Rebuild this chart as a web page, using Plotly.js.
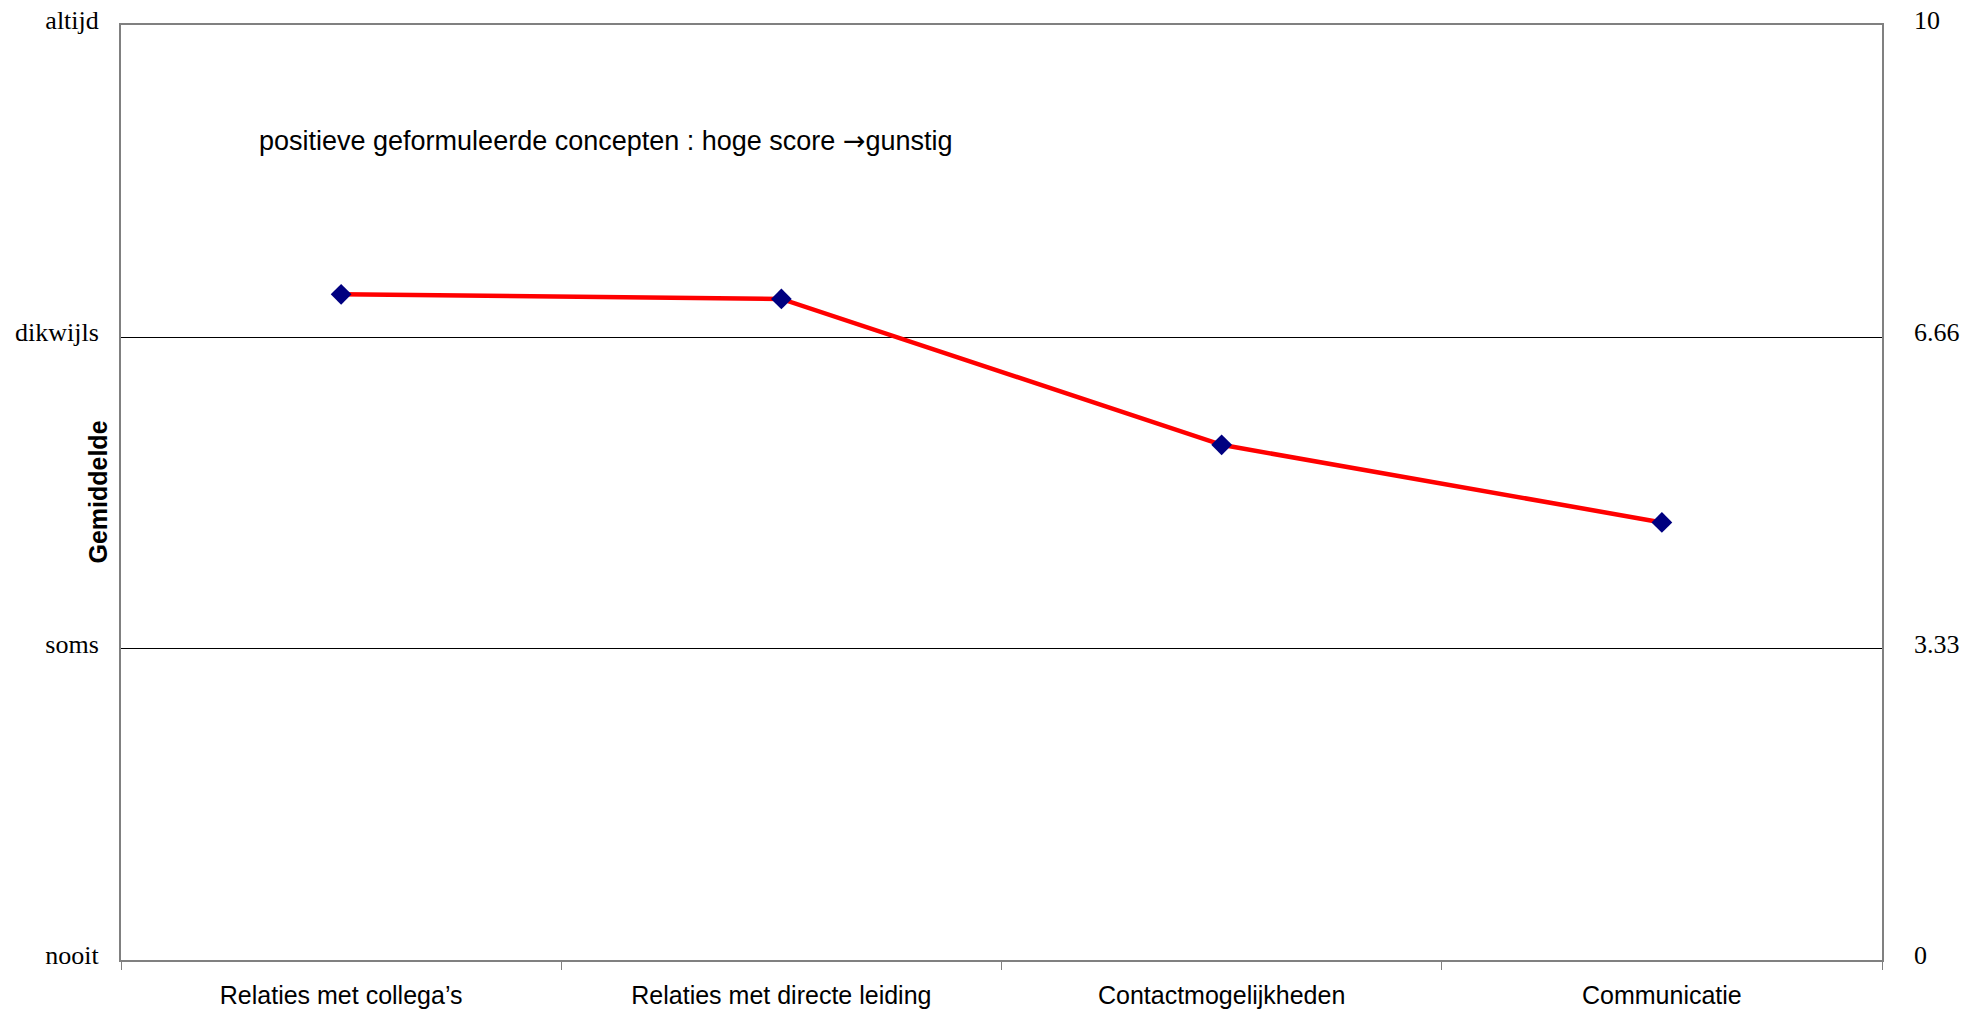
<!DOCTYPE html>
<html>
<head>
<meta charset="utf-8">
<script src="https://cdn.plot.ly/plotly-3.0.1.min.js"></script>
<style>html,body{margin:0;padding:0;background:#fff;}#chart{width:1986px;height:1014px;}</style>
</head>
<body>
<div id="chart"></div>
<script>
const categories = ["Relaties met collega\u2019s", "Relaties met directe leiding", "Contactmogelijkheden", "Communicatie"];
const gemiddelde = [7.12, 7.07, 5.51, 4.68];
const yTickVals = [0, 3.33, 6.66, 10];
const yTickTextLeft = ["nooit", "soms", "dikwijls", "altijd"];
const yTickTextRight = ["0", "3.33", "6.66", "10"];
const noteBefore = "positieve geformuleerde concepten : hoge score ";
const noteArrow = "\u2192";
const noteAfter = "gunstig";
const yTitle = "Gemiddelde";

const trace = {
  x: categories,
  y: gemiddelde,
  type: "scatter",
  mode: "lines+markers",
  line: {color: "#ff0000", width: 4.5},
  marker: {symbol: "diamond", size: 16, color: "#000080"},
  showlegend: false,
  hoverinfo: "x+y"
};

const layout = {
  width: 1986,
  height: 1014,
  margin: {l: 121, r: 104, t: 25, b: 54, pad: 0},
  paper_bgcolor: "#ffffff",
  plot_bgcolor: "#ffffff",
  showlegend: false,
  xaxis: {
    type: "category",
    range: [-0.5, 3.5],
    tickson: "boundaries",
    ticks: "outside",
    ticklen: 8,
    tickwidth: 1,
    tickcolor: "#808080",
    showline: true,
    linecolor: "#808080",
    linewidth: 2,
    mirror: true,
    showgrid: false,
    zeroline: false,
    ticklabelstandoff: 12,
    tickfont: {family: "Liberation Sans, Arial, sans-serif", size: 25, color: "#000000"}
  },
  yaxis: {
    range: [0, 10],
    tickvals: yTickVals,
    ticktext: yTickTextLeft,
    ticks: "",
    showline: true,
    linecolor: "#808080",
    linewidth: 2,
    mirror: true,
    showgrid: true,
    gridcolor: "#000000",
    gridwidth: 1,
    zeroline: false,
    ticklabelstandoff: 15,
    ticklabelshift: -5,
    tickfont: {family: "Liberation Serif, Times New Roman, serif", size: 26, color: "#000000"}
  },
  yaxis2: {
    range: [0, 10],
    overlaying: "y",
    side: "right",
    tickvals: yTickVals,
    ticktext: yTickTextRight,
    ticks: "",
    showline: false,
    showgrid: false,
    zeroline: false,
    ticklabelstandoff: 31,
    ticklabelshift: -5,
    tickfont: {family: "Liberation Serif, Times New Roman, serif", size: 26, color: "#000000"}
  },
  annotations: [
    {
      text: noteBefore + "<span style='font-family:DejaVu Sans'>" + noteArrow + "</span>" + noteAfter,
      xref: "paper", yref: "paper",
      x: 0.0775, y: 0.876,
      xanchor: "left", yanchor: "middle",
      showarrow: false,
      font: {family: "Liberation Sans, Arial, sans-serif", size: 27, color: "#000000"}
    },
    {
      text: "<b>" + yTitle + "</b>",
      xref: "paper", yref: "paper",
      x: -0.0136, y: 0.5,
      xanchor: "center", yanchor: "middle",
      textangle: -90,
      showarrow: false,
      font: {family: "Liberation Sans, Arial, sans-serif", size: 25, color: "#000000"}
    }
  ]
};

const anchorTrace = {
  x: [categories[0]],
  y: [null],
  yaxis: "y2",
  type: "scatter",
  mode: "markers",
  showlegend: false,
  hoverinfo: "skip"
};

Plotly.newPlot("chart", [trace, anchorTrace], layout, {displayModeBar: false, staticPlot: true});
</script>
</body>
</html>
